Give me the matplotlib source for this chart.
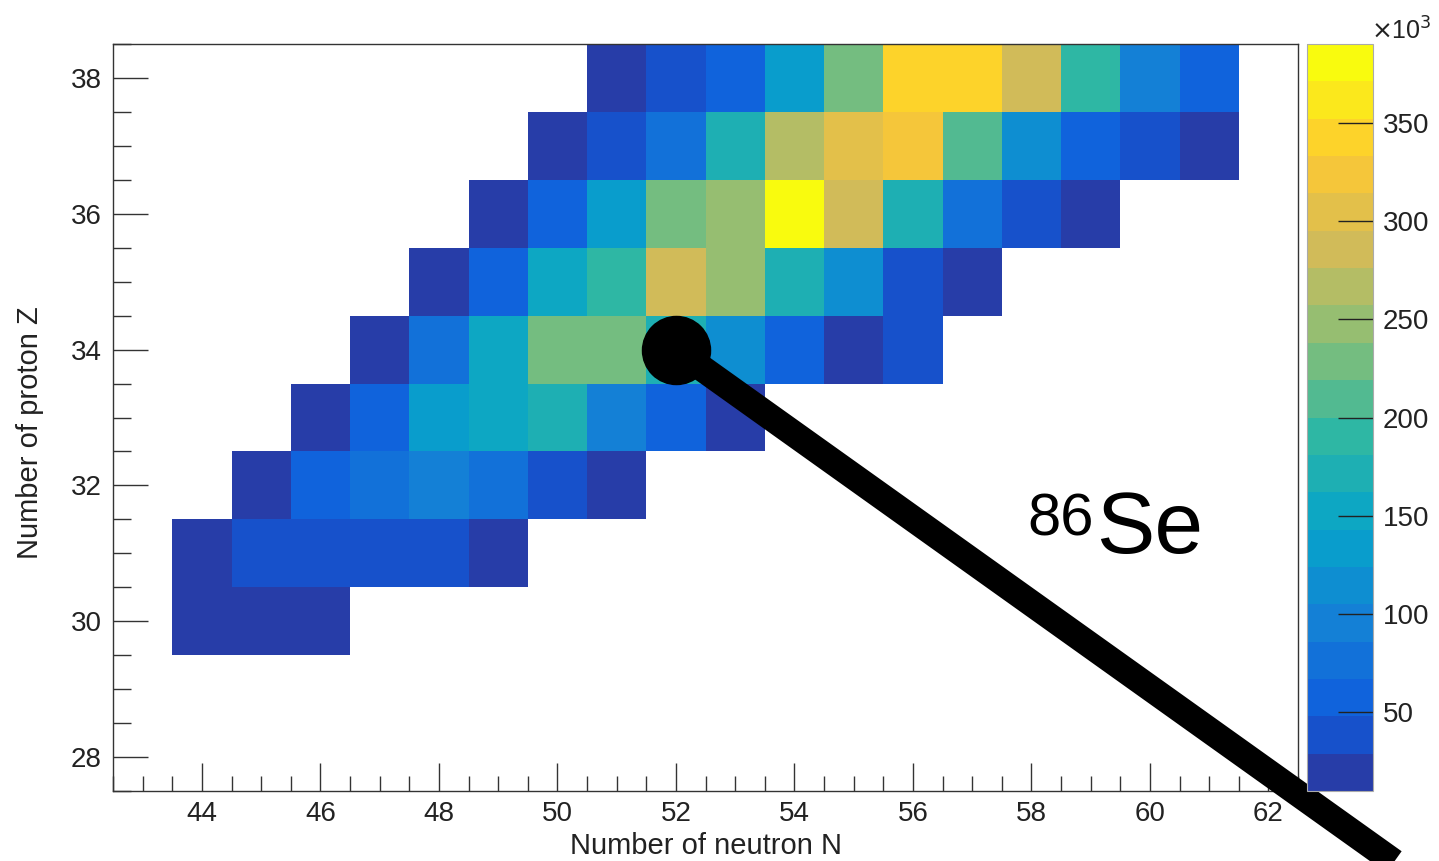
import numpy as np
import matplotlib
matplotlib.use("Agg")
import matplotlib.pyplot as plt
from matplotlib.colors import LinearSegmentedColormap, ListedColormap, BoundaryNorm
from matplotlib.ticker import MultipleLocator, FuncFormatter

plt.rcParams['font.family'] = ['Liberation Sans', 'DejaVu Sans']

# counts per (Z, N) cell, one row per proton number, starting at n_first
z_rows = [38, 37, 36, 35, 34, 33, 32, 31, 30]
n_first = [51, 50, 49, 48, 47, 46, 45, 44, 44]
counts = [
    [18e3, 38e3, 57e3, 133e3, 228e3, 342e3, 342e3, 285e3, 190e3, 95e3, 57e3],
    [20e3, 38e3, 76e3, 171e3, 266e3, 304e3, 323e3, 209e3, 114e3, 57e3, 38e3, 20e3],
    [20e3, 57e3, 133e3, 228e3, 247e3, 385e3, 285e3, 171e3, 76e3, 38e3, 20e3],
    [20e3, 57e3, 152e3, 190e3, 285e3, 247e3, 171e3, 114e3, 38e3, 20e3],
    [20e3, 76e3, 152e3, 228e3, 228e3, 180e3, 114e3, 57e3, 20e3, 38e3],
    [20e3, 57e3, 133e3, 152e3, 171e3, 95e3, 57e3, 20e3],
    [20e3, 57e3, 76e3, 95e3, 76e3, 38e3, 20e3],
    [18e3, 38e3, 38e3, 38e3, 38e3, 20e3],
    [15e3, 15e3, 15e3],
]

n_lo, n_hi = 42.5, 62.5
z_lo, z_hi = 27.5, 38.5
z_min, z_max = 10e3, 390e3
n_contours = 20

# ROOT kBird palette
stops = [0.0, 0.125, 0.25, 0.375, 0.5, 0.625, 0.75, 0.875, 1.0]
red = [0.2082, 0.0592, 0.0780, 0.0232, 0.1802, 0.5301, 0.8186, 0.9956, 0.9764]
green = [0.1664, 0.3599, 0.5041, 0.6419, 0.7178, 0.7492, 0.7328, 0.7862, 0.9832]
blue = [0.5293, 0.8684, 0.8385, 0.7914, 0.6425, 0.4662, 0.3499, 0.1968, 0.0539]
bird = LinearSegmentedColormap.from_list(
    "bird", [(s, (r, g, b)) for s, r, g, b in zip(stops, red, green, blue)], N=255)
idx = [int((i + 0.99) * 255 / n_contours) for i in range(n_contours)]
band_cmap = ListedColormap([bird(min(k, 254) / 254) for k in idx])
levels = np.linspace(z_min, z_max, n_contours + 1)
norm = BoundaryNorm(levels, band_cmap.N)

# fill the histogram grid
n_edges = np.arange(n_lo, n_hi + 1)
z_edges = np.arange(z_lo, z_hi + 1)
grid = np.full((len(z_edges) - 1, len(n_edges) - 1), np.nan)
for z, n0, row in zip(z_rows, n_first, counts):
    for j, c in enumerate(row):
        grid[int(z - (z_lo + 0.5)), int(n0 + j - (n_lo + 0.5))] = c
grid = np.ma.masked_invalid(grid)

fig = plt.figure(figsize=(14.39, 8.61), dpi=100)
ax = fig.add_axes([113 / 1439, 1 - 791 / 861, (1298 - 113) / 1439, (791 - 44) / 861])
cax = fig.add_axes([1307 / 1439, 1 - 791 / 861, (1373 - 1307) / 1439, (791 - 44) / 861])

mesh = ax.pcolormesh(n_edges, z_edges, grid, cmap=band_cmap, norm=norm)
ax.set_xlim(n_lo, n_hi)
ax.set_ylim(z_lo, z_hi)

frame_col = '#333333'
for side in ['top', 'right', 'bottom', 'left']:
    ax.spines[side].set_color(frame_col)
    ax.spines[side].set_linewidth(1.0)

ax.xaxis.set_major_locator(MultipleLocator(2))
ax.xaxis.set_minor_locator(MultipleLocator(0.5))
ax.yaxis.set_major_locator(MultipleLocator(2))
ax.yaxis.set_minor_locator(MultipleLocator(0.5))
ax.tick_params(axis='x', which='major', direction='in', length=20, width=1,
               color=frame_col, labelsize=20, pad=7, labelcolor='#222222')
ax.tick_params(axis='x', which='minor', direction='in', length=11, width=1, color=frame_col)
ax.tick_params(axis='y', which='major', direction='in', length=25, width=1,
               color=frame_col, labelsize=20, pad=8, labelcolor='#222222')
ax.tick_params(axis='y', which='minor', direction='in', length=13, width=1, color=frame_col)

ax.set_xlabel('Number of neutron N', fontsize=21, color='#222222')
ax.set_ylabel('Number of proton Z', fontsize=21, color='#222222')
ax.xaxis.set_label_coords(0.5, -0.055)
ax.yaxis.set_label_coords(-0.058, 0.48)

# colour scale
cb = fig.colorbar(mesh, cax=cax, ticks=np.arange(50e3, 351e3, 50e3))
cb.outline.set_edgecolor('#aaaaaa')
cb.outline.set_linewidth(0.8)
cb.ax.yaxis.set_major_formatter(FuncFormatter(lambda v, p: f"{v / 1000:g}"))
cax.tick_params(which='major', direction='in', length=25, width=1, color='#222222',
                labelsize=20, pad=7, labelcolor='#222222')
cax.tick_params(which='minor', length=0)
fig.text(1371 / 1439, 1 - 40 / 861, r'$\times$10$^{3}$', fontsize=18, color='#222222',
         ha='left', va='baseline')

# marker on 86Se and its pointer line
se_n, se_z = 52, 34
tip_n, tip_z = 64.4, 26.28
ax.plot([se_n, tip_n], [se_z, tip_z], color='black', lw=19, solid_capstyle='butt',
        clip_on=False, zorder=10)
ax.plot([se_n], [se_z], 'o', color='black', markersize=49, clip_on=False, zorder=11)

fig.text(1027 / 1439, 1 - 535 / 861, '86', fontsize=43, color='black',
         ha='left', va='baseline')
fig.text(1096 / 1439, 1 - 553 / 861, 'Se', fontsize=63, color='black',
         ha='left', va='baseline')

fig.savefig('out.png', dpi=100, facecolor='white')
